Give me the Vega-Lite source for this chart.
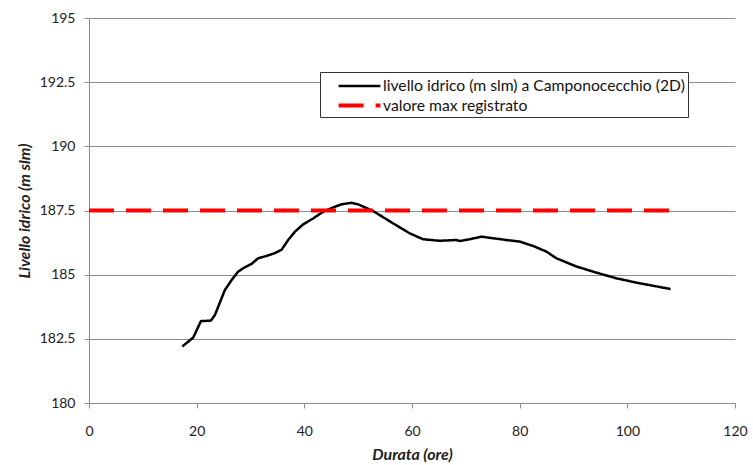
{
  "$schema": "https://vega.github.io/schema/vega-lite/v6.json",
  "width": 646,
  "height": 385,
  "autosize": {"type": "none"},
  "padding": {"left": 89, "top": 18, "right": 18, "bottom": 62},
  "background": "white",
  "config": {
    "font": "Lato",
    "view": {"stroke": null},
    "axis": {
      "labelFont": "Lato",
      "labelFontSize": 14,
      "labelColor": "#222222",
      "titleFont": "Lato",
      "titleFontSize": 16,
      "titleFontWeight": "bold",
      "titleFontStyle": "italic",
      "titleColor": "#222222",
      "domainColor": "#8c8c8c",
      "tickColor": "#8c8c8c",
      "gridColor": "#8c8c8c",
      "tickSize": 5
    }
  },
  "data": {
    "values": [
      {"serie": "livello idrico (m slm) a Camponocecchio (2D)", "ore": 17.32, "livello": 182.2},
      {"serie": "livello idrico (m slm) a Camponocecchio (2D)", "ore": 19.36, "livello": 182.55},
      {"serie": "livello idrico (m slm) a Camponocecchio (2D)", "ore": 20.79, "livello": 183.19},
      {"serie": "livello idrico (m slm) a Camponocecchio (2D)", "ore": 22.64, "livello": 183.21},
      {"serie": "livello idrico (m slm) a Camponocecchio (2D)", "ore": 23.39, "livello": 183.43},
      {"serie": "livello idrico (m slm) a Camponocecchio (2D)", "ore": 25.24, "livello": 184.4},
      {"serie": "livello idrico (m slm) a Camponocecchio (2D)", "ore": 26.49, "livello": 184.79},
      {"serie": "livello idrico (m slm) a Camponocecchio (2D)", "ore": 27.71, "livello": 185.12},
      {"serie": "livello idrico (m slm) a Camponocecchio (2D)", "ore": 28.96, "livello": 185.29},
      {"serie": "livello idrico (m slm) a Camponocecchio (2D)", "ore": 30.2, "livello": 185.42},
      {"serie": "livello idrico (m slm) a Camponocecchio (2D)", "ore": 31.42, "livello": 185.64},
      {"serie": "livello idrico (m slm) a Camponocecchio (2D)", "ore": 32.98, "livello": 185.73},
      {"serie": "livello idrico (m slm) a Camponocecchio (2D)", "ore": 34.52, "livello": 185.84},
      {"serie": "livello idrico (m slm) a Camponocecchio (2D)", "ore": 35.77, "livello": 185.97},
      {"serie": "livello idrico (m slm) a Camponocecchio (2D)", "ore": 36.99, "livello": 186.35},
      {"serie": "livello idrico (m slm) a Camponocecchio (2D)", "ore": 38.24, "livello": 186.67},
      {"serie": "livello idrico (m slm) a Camponocecchio (2D)", "ore": 39.78, "livello": 186.96},
      {"serie": "livello idrico (m slm) a Camponocecchio (2D)", "ore": 41.63, "livello": 187.19},
      {"serie": "livello idrico (m slm) a Camponocecchio (2D)", "ore": 43.49, "livello": 187.45},
      {"serie": "livello idrico (m slm) a Camponocecchio (2D)", "ore": 45.35, "livello": 187.62},
      {"serie": "livello idrico (m slm) a Camponocecchio (2D)", "ore": 46.91, "livello": 187.74},
      {"serie": "livello idrico (m slm) a Camponocecchio (2D)", "ore": 48.76, "livello": 187.8},
      {"serie": "livello idrico (m slm) a Camponocecchio (2D)", "ore": 49.99, "livello": 187.74},
      {"serie": "livello idrico (m slm) a Camponocecchio (2D)", "ore": 52.77, "livello": 187.48},
      {"serie": "livello idrico (m slm) a Camponocecchio (2D)", "ore": 56.48, "livello": 187.0},
      {"serie": "livello idrico (m slm) a Camponocecchio (2D)", "ore": 59.58, "livello": 186.61},
      {"serie": "livello idrico (m slm) a Camponocecchio (2D)", "ore": 62.05, "livello": 186.38},
      {"serie": "livello idrico (m slm) a Camponocecchio (2D)", "ore": 65.15, "livello": 186.32},
      {"serie": "livello idrico (m slm) a Camponocecchio (2D)", "ore": 68.25, "livello": 186.35},
      {"serie": "livello idrico (m slm) a Camponocecchio (2D)", "ore": 68.86, "livello": 186.31},
      {"serie": "livello idrico (m slm) a Camponocecchio (2D)", "ore": 70.72, "livello": 186.38},
      {"serie": "livello idrico (m slm) a Camponocecchio (2D)", "ore": 72.89, "livello": 186.48},
      {"serie": "livello idrico (m slm) a Camponocecchio (2D)", "ore": 75.04, "livello": 186.42},
      {"serie": "livello idrico (m slm) a Camponocecchio (2D)", "ore": 77.53, "livello": 186.35},
      {"serie": "livello idrico (m slm) a Camponocecchio (2D)", "ore": 80.0, "livello": 186.29},
      {"serie": "livello idrico (m slm) a Camponocecchio (2D)", "ore": 82.47, "livello": 186.12},
      {"serie": "livello idrico (m slm) a Camponocecchio (2D)", "ore": 84.96, "livello": 185.9},
      {"serie": "livello idrico (m slm) a Camponocecchio (2D)", "ore": 86.81, "livello": 185.64},
      {"serie": "livello idrico (m slm) a Camponocecchio (2D)", "ore": 90.53, "livello": 185.32},
      {"serie": "livello idrico (m slm) a Camponocecchio (2D)", "ore": 94.24, "livello": 185.08},
      {"serie": "livello idrico (m slm) a Camponocecchio (2D)", "ore": 97.95, "livello": 184.86},
      {"serie": "livello idrico (m slm) a Camponocecchio (2D)", "ore": 101.66, "livello": 184.69},
      {"serie": "livello idrico (m slm) a Camponocecchio (2D)", "ore": 104.74, "livello": 184.57},
      {"serie": "livello idrico (m slm) a Camponocecchio (2D)", "ore": 108.03, "livello": 184.44},
      {"serie": "valore max registrato", "ore": 0, "livello": 187.5},
      {"serie": "valore max registrato", "ore": 108, "livello": 187.5}
    ]
  },
  "mark": {"type": "line", "strokeCap": "butt"},
  "encoding": {
    "x": {
      "field": "ore",
      "type": "quantitative",
      "title": "Durata (ore)",
      "scale": {"domain": [0, 120], "nice": false, "zero": false},
      "axis": {
        "values": [0, 20, 40, 60, 80, 100, 120],
        "grid": false,
        "labelPadding": 16,
        "titlePadding": 8,
        "labelFlush": false
      }
    },
    "y": {
      "field": "livello",
      "type": "quantitative",
      "title": "Livello idrico (m slm)",
      "scale": {"domain": [180, 195], "nice": false, "zero": false},
      "axis": {
        "values": [180, 182.5, 185, 187.5, 190, 192.5, 195],
        "labelExpr": "datum.value",
        "grid": true,
        "labelPadding": 9,
        "titlePadding": 7,
        "labelFlush": false
      }
    },
    "color": {
      "field": "serie",
      "type": "nominal",
      "scale": {
        "domain": ["livello idrico (m slm) a Camponocecchio (2D)", "valore max registrato"],
        "range": ["#000000", "#ff0000"]
      },
      "legend": {
        "title": null,
        "orient": "none",
        "legendX": 231,
        "legendY": 54,
        "symbolType": "M-2.2,0H2.2",
        "symbolSize": 361,
        "labelFont": "Lato",
        "labelFontSize": 15.7,
        "labelColor": "#111111",
        "labelOffset": 12,
        "labelLimit": 440,
        "rowPadding": 0,
        "padding": 3,
        "symbolOffset": 25,
        "strokeColor": "#333333",
        "fillColor": "white"
      }
    },
    "strokeDash": {
      "field": "serie",
      "type": "nominal",
      "scale": {
        "domain": ["livello idrico (m slm) a Camponocecchio (2D)", "valore max registrato"],
        "range": [[1, 0], [25, 12]]
      },
      "legend": {
        "title": null,
        "orient": "none",
        "legendX": 231,
        "legendY": 54
      }
    },
    "strokeWidth": {
      "field": "serie",
      "type": "nominal",
      "scale": {
        "type": "ordinal",
        "domain": ["livello idrico (m slm) a Camponocecchio (2D)", "valore max registrato"],
        "range": [2.5, 4]
      },
      "legend": {
        "title": null,
        "orient": "none",
        "legendX": 231,
        "legendY": 54
      }
    }
  }
}
